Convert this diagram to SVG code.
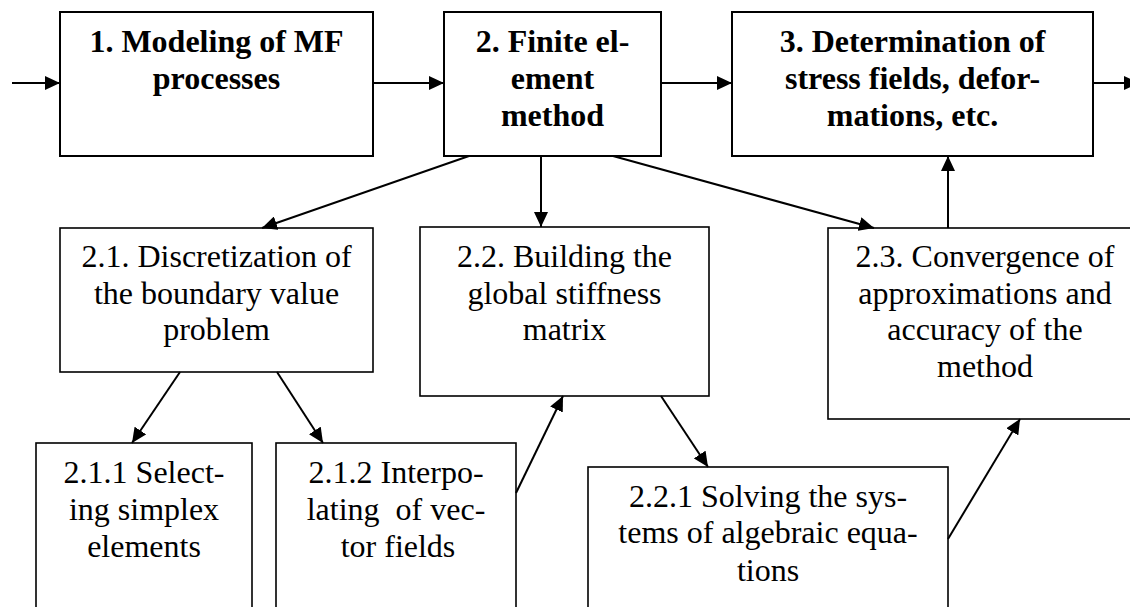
<svg xmlns="http://www.w3.org/2000/svg" width="1130" height="607" viewBox="0 0 1130 607">
  <style>
    .main { fill: #fff; stroke: #000; stroke-width: 2; }
    .sub { fill: #fff; stroke: #000; stroke-width: 1.6; }
    .hd { font-family: "Liberation Serif", "Times New Roman", serif; font-size: 32px; font-weight: bold; fill: #000; text-anchor: middle; }
    .tx { font-family: "Liberation Serif", "Times New Roman", serif; font-size: 32px; fill: #000; text-anchor: middle; }
    .link { stroke: #000; stroke-width: 2; fill: none; marker-end: url(#arrow); }
  </style>
  <defs>
    <marker id="arrow" markerUnits="userSpaceOnUse" markerWidth="16" markerHeight="14" refX="15" refY="7" orient="auto">
      <path d="M0,0 L15,7 L0,14 z" fill="#000"/>
    </marker>
  </defs>
  <rect width="1130" height="607" fill="#fff"/>

  <!-- top row -->
  <g id="node-1">
    <rect class="main" x="60" y="12" width="313" height="144"/>
    <text class="hd" x="216.5" y="52">1. Modeling of MF</text>
    <text class="hd" x="216.5" y="89">processes</text>
  </g>
  <g id="node-2">
    <rect class="main" x="444" y="12" width="217" height="144"/>
    <text class="hd" x="552.5" y="52">2. Finite el-</text>
    <text class="hd" x="552.5" y="89">ement</text>
    <text class="hd" x="552.5" y="126">method</text>
  </g>
  <g id="node-3">
    <rect class="main" x="732" y="12" width="361" height="144"/>
    <text class="hd" x="912.5" y="52">3. Determination of</text>
    <text class="hd" x="912.5" y="89">stress fields, defor-</text>
    <text class="hd" x="912.5" y="126">mations, etc.</text>
  </g>

  <!-- second row -->
  <g id="node-2-1">
    <rect class="sub" x="60" y="228" width="313" height="144"/>
    <text class="tx" x="216.5" y="267">2.1. Discretization of</text>
    <text class="tx" x="216.5" y="304">the boundary value</text>
    <text class="tx" x="216.5" y="340">problem</text>
  </g>
  <g id="node-2-2">
    <rect class="sub" x="420" y="227" width="289" height="169"/>
    <text class="tx" x="564.5" y="267">2.2. Building the</text>
    <text class="tx" x="564.5" y="304">global stiffness</text>
    <text class="tx" x="564.5" y="340">matrix</text>
  </g>
  <g id="node-2-3">
    <rect class="sub" x="828" y="228" width="320" height="191"/>
    <text class="tx" x="985" y="267">2.3. Convergence of</text>
    <text class="tx" x="985" y="304">approximations and</text>
    <text class="tx" x="985" y="340">accuracy of the</text>
    <text class="tx" x="985" y="377">method</text>
  </g>

  <!-- third row -->
  <g id="node-2-1-1">
    <rect class="sub" x="36" y="443" width="216" height="180"/>
    <text class="tx" x="144" y="483">2.1.1 Select-</text>
    <text class="tx" x="144" y="520">ing simplex</text>
    <text class="tx" x="144" y="557">elements</text>
  </g>
  <g id="node-2-1-2">
    <rect class="sub" x="276" y="443" width="240" height="180"/>
    <text class="tx" x="396" y="483">2.1.2 Interpo-</text>
    <text class="tx" x="396" y="520" xml:space="preserve">lating  of vec-</text>
    <text class="tx" x="398" y="557">tor fields</text>
  </g>
  <g id="node-2-2-1">
    <rect class="sub" x="588" y="467" width="360" height="160"/>
    <text class="tx" x="768" y="507">2.2.1 Solving the sys-</text>
    <text class="tx" x="768" y="543">tems of algebraic equa-</text>
    <text class="tx" x="768" y="581">tions</text>
  </g>

  <!-- connectors -->
  <g id="connectors">
    <line class="link" x1="12" y1="83" x2="60" y2="83"/>
    <line class="link" x1="373" y1="83" x2="444" y2="83"/>
    <line class="link" x1="661" y1="83" x2="732" y2="83"/>
    <line class="link" x1="1093" y1="83" x2="1139" y2="83"/>
    <line class="link" x1="469" y1="156" x2="262" y2="228"/>
    <line class="link" x1="541" y1="156" x2="541" y2="227"/>
    <line class="link" x1="613" y1="156" x2="874" y2="228"/>
    <line class="link" x1="948" y1="228" x2="948" y2="156"/>
    <line class="link" x1="180" y1="372" x2="132" y2="443"/>
    <line class="link" x1="277" y1="372" x2="323" y2="443"/>
    <line class="link" x1="516" y1="493" x2="563" y2="396"/>
    <line class="link" x1="661" y1="396" x2="708" y2="467"/>
    <line class="link" x1="948" y1="539" x2="1020" y2="419"/>
  </g>
</svg>
